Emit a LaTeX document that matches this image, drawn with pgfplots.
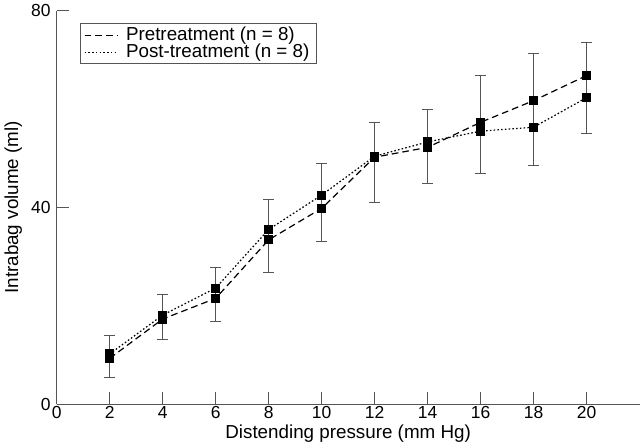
\documentclass[border=0pt]{standalone}
\usepackage{fontspec}
\setmainfont{Liberation Sans}
\usepackage{pgfplots}
\pgfplotsset{compat=1.18}
\definecolor{axgray}{RGB}{85,85,85}
\begin{document}
\begin{tikzpicture}
\begin{axis}[
  scale only axis, width=434pt, height=293pt,
  xmin=0, xmax=22, ymin=0, ymax=80,
  axis lines=left, axis line style={axgray, -, line width=0.7pt},
  xtick={0,2,...,20}, ytick={0,40,80},
  tick align=inside, major tick length=9pt,
  tick style={axgray, line width=0.7pt},
  /pgf/number format/assume math mode=true,
  ticklabel style={font=\fontsize{13}{15}\selectfont},
  xticklabel style={yshift=2pt},
  yticklabel style={xshift=-1pt},
  xlabel={Distending pressure (mm Hg)}, ylabel={Intrabag volume (ml)},
  xlabel style={yshift=2pt},
  label style={font=\fontsize{14}{16}\selectfont},
  legend style={at={(0,1)}, anchor=north west, xshift=17pt, yshift=-9pt,
    draw=axgray, line width=0.7pt, font=\fontsize{14}{15}\selectfont,
    inner xsep=3pt, inner ysep=1pt, row sep=-3pt},
  legend cell align=left,
  legend image code/.code={\draw[#1, line width=0.7pt] (0cm,0cm) -- (0.85cm,0cm); \path (1.0cm,0cm);},
]
\addplot[draw=none, mark=none, forget plot,
  error bars/.cd, y dir=both, y explicit,
  error bar style={draw=axgray, line width=0.7pt, solid},
  error mark options={rotate=90, mark size=4pt, draw=axgray, line width=0.7pt, solid}]
  coordinates {
  (2,9.7) +- (0,4.2)
  (4,17.7) +- (0,4.5)
  (6,22.35) +- (0,5.45)
  (8,34.15) +- (0,7.45)
  (10,41.05) +- (0,7.95)
  (12,49.1) +- (0,8.1)
  (14,52.45) +- (0,7.55)
  (16,56.8) +- (0,10.0)
  (18,59.95) +- (0,11.35)
  (20,64.3) +- (0,9.3)
  };
\addplot[black, line width=0.9pt, dash pattern=on 5pt off 3pt, mark=square*, mark size=2.9pt, mark options={solid}]
  coordinates {(2,9.3)(4,17.3)(6,21.5)(8,33.4)(10,39.8)(12,50.2)(14,52.2)(16,57.3)(18,61.7)(20,66.8)};
\addlegendentry{Pretreatment (n = 8)}
\addplot[black, line width=0.9pt, dash pattern=on 1.2pt off 1.6pt, mark=square*, mark size=2.9pt, mark options={solid}]
  coordinates {(2,10.2)(4,18.1)(6,23.6)(8,35.5)(10,42.5)(12,50.4)(14,53.3)(16,55.5)(18,56.3)(20,62.3)};
\addlegendentry{Post-treatment (n = 8)}
\end{axis}
\end{tikzpicture}
\end{document}
